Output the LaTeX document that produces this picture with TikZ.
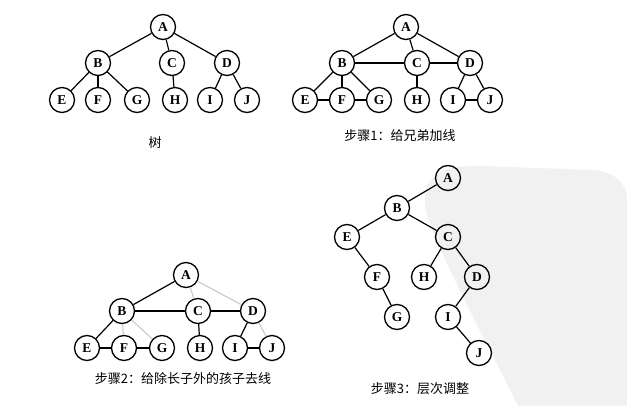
\documentclass[tikz,border=0pt]{standalone}
\usepackage{fontspec}
\setmainfont{Liberation Serif}
\newfontfamily\cjk{Noto Sans CJK SC}
\tikzset{
  nd/.style={draw, circle, line width=1.3pt, minimum size=25pt, inner sep=0pt,
             font=\bfseries\fontsize{13.5}{13.5}\selectfont},
  ed/.style={line width=1.2pt},
  sib/.style={line width=2.8pt},
  cut/.style={line width=1.2pt, gray!40},
  legende/.style={font=\cjk\fontsize{13}{13}\selectfont}
}
\begin{document}
\begin{tikzpicture}[x=1pt,y=-1pt]
\useasboundingbox (0,0) rectangle (627,406);
% ------ fond -------------------
\fill[gray!11] (427,185) .. controls (440,166) and (460,166) .. (480,166)
   -- (595,170) .. controls (615,172) and (627,185) .. (627,198)
   -- (627,406) -- (518,406) .. controls (480,330) and (440,255) .. (427,215)
   .. controls (424,202) .. cycle;
% ------ arbre -------------------
\foreach \n/\x/\y in {A/163/27, B/98/63, C/172/63, D/227/63, E/62/100,
    F/98/100, G/137/100, H/175/100, I/210/100, J/247/100}
  \node[nd] (\n1) at (\x,\y) {\n};
\foreach \a/\b in {A/B, A/C, A/D, B/E, B/F, B/G, C/H, D/I, D/J}
  \draw[ed] (\a1) -- (\b1);
\node[legende] (leg1) at (155,143) {树};
% ------ etape 1 -------------------
\foreach \n/\x/\y in {A/406/27, B/342/63, C/417/63, D/470/63, E/305/100,
    F/342/100, G/379/100, H/417/100, I/453/100, J/490/100}
  \node[nd] (\n2) at (\x,\y) {\n};
\foreach \a/\b in {A/B, A/C, A/D, B/E, B/F, B/G, C/H, D/I, D/J}
  \draw[ed] (\a2) -- (\b2);
\foreach \a/\b in {B/C, C/D, E/F, F/G, I/J}
  \draw[sib] (\a2) -- (\b2);
\node[legende] (leg2) at (400,136) {步骤1：给兄弟加线};
% ------ etape 2 -------------------
\foreach \n/\x/\y in {A/186/275, B/122/311, C/198/311, D/253/311, E/87/348,
    F/124/348, G/162/348, H/200/348, I/235/348, J/272/348}
  \node[nd] (\n3) at (\x,\y) {\n};
\foreach \a/\b in {A/C, A/D, B/F, B/G, D/J}
  \draw[cut] (\a3) -- (\b3);
\foreach \a/\b in {A/B, B/C, C/D, B/E, E/F, F/G, C/H, D/I, I/J}
  \draw[ed] (\a3) -- (\b3);
\node[legende] (leg3) at (183,379) {步骤2：给除长子外的孩子去线};
% ------ etape 3 -------------------
\foreach \n/\x/\y in {A/448/178, B/397/208, C/448/237, E/347/237, F/377/277,
    H/424/277, D/477/277, G/397/317, I/448/317, J/479/353}
  \node[nd] (\n4) at (\x,\y) {\n};
\foreach \a/\b in {A/B, B/E, B/C, E/F, F/G, C/H, C/D, D/I, I/J}
  \draw[ed] (\a4) -- (\b4);
\node[legende] (leg4) at (420,389) {步骤3：层次调整};
\end{tikzpicture}
\end{document}
